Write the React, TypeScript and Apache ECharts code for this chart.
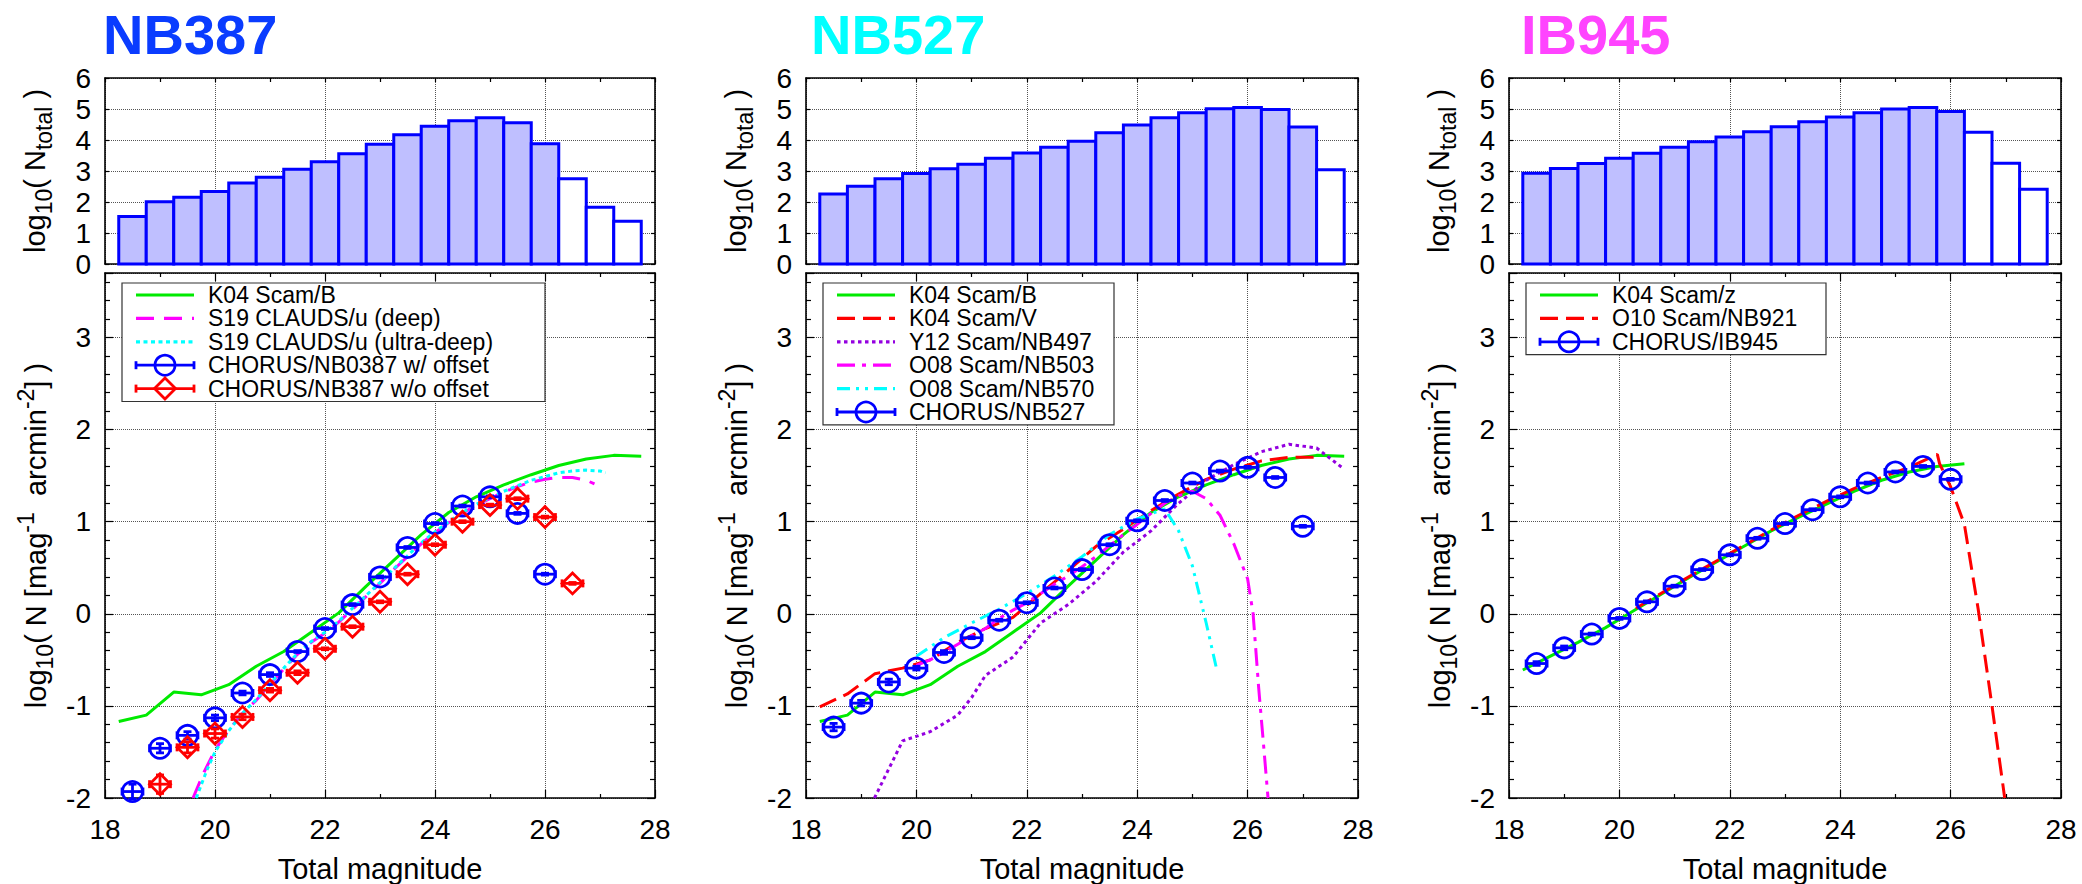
import React, { useEffect, useRef } from "react";
import * as echarts from "echarts";

// ---------------- data ----------------
const MAG_BINS = [18.5, 19.0, 19.5, 20.0, 20.5, 21.0, 21.5, 22.0, 22.5, 23.0, 23.5, 24.0, 24.5, 25.0, 25.5, 26.0, 26.5, 27.0, 27.5];
const HIST_NB387 = [1.53, 2.01, 2.15, 2.34, 2.61, 2.8, 3.06, 3.3, 3.56, 3.86, 4.17, 4.44, 4.62, 4.72, 4.56, 3.88, 2.75, 1.83, 1.38];
const HIST_NB527 = [2.26, 2.51, 2.75, 2.92, 3.07, 3.22, 3.41, 3.58, 3.77, 3.96, 4.23, 4.48, 4.72, 4.88, 5.01, 5.05, 4.98, 4.42, 3.04];
const HIST_IB945 = [2.93, 3.08, 3.24, 3.41, 3.57, 3.77, 3.94, 4.1, 4.27, 4.43, 4.59, 4.74, 4.88, 5.0, 5.05, 4.92, 4.25, 3.25, 2.41];
// last magnitude bin drawn filled (completeness limit)
const LIMIT_NB387 = 26.0;
const LIMIT_NB527 = 27.0;
const LIMIT_IB945 = 26.0;

// half width of the magnitude error bar
const MAG_HALF_ERR = 0.19;

// CHORUS NB387 with offset (blue circles)
const NB387_OFF_MAG = [18.5, 19.0, 19.5, 20.0, 20.5, 21.0, 21.5, 22.0, 22.5, 23.0, 23.5, 24.0, 24.5, 25.0, 25.5, 26.0];
const NB387_OFF_LOGN = [-1.93, -1.46, -1.32, -1.13, -0.86, -0.66, -0.41, -0.16, 0.1, 0.4, 0.72, 0.98, 1.17, 1.27, 1.09, 0.43];
const NB387_OFF_ERR = [0.08, 0.05, 0.04, 0.03, 0.02, 0.02, 0.01, 0.01, 0.01, 0.01, 0.01, 0.01, 0.01, 0.01, 0.01, 0.01];
// CHORUS NB387 without offset (red diamonds)
const NB387_RAW_MAG = [19.0, 19.5, 20.0, 20.5, 21.0, 21.5, 22.0, 22.5, 23.0, 23.5, 24.0, 24.5, 25.0, 25.5, 26.0, 26.5];
const NB387_RAW_LOGN = [-1.85, -1.45, -1.3, -1.12, -0.83, -0.64, -0.38, -0.14, 0.13, 0.43, 0.75, 1.0, 1.18, 1.25, 1.05, 0.33];
const NB387_RAW_ERR = [0.1, 0.06, 0.05, 0.03, 0.02, 0.02, 0.01, 0.01, 0.01, 0.01, 0.01, 0.01, 0.01, 0.01, 0.01, 0.01];
// CHORUS NB527
const NB527_MAG = [18.5, 19.0, 19.5, 20.0, 20.5, 21.0, 21.5, 22.0, 22.5, 23.0, 23.5, 24.0, 24.5, 25.0, 25.5, 26.0, 26.5, 27.0];
const NB527_LOGN = [-1.23, -0.97, -0.74, -0.59, -0.42, -0.26, -0.07, 0.12, 0.28, 0.48, 0.75, 1.01, 1.23, 1.42, 1.55, 1.59, 1.48, 0.95];
const NB527_ERR = [0.04, 0.03, 0.03, 0.02, 0.02, 0.01, 0.01, 0.01, 0.01, 0.01, 0.01, 0.01, 0.01, 0.01, 0.01, 0.01, 0.01, 0.01];
// CHORUS IB945
const IB945_MAG = [18.5, 19.0, 19.5, 20.0, 20.5, 21.0, 21.5, 22.0, 22.5, 23.0, 23.5, 24.0, 24.5, 25.0, 25.5, 26.0];
const IB945_LOGN = [-0.54, -0.37, -0.22, -0.05, 0.13, 0.3, 0.48, 0.64, 0.82, 0.98, 1.13, 1.27, 1.42, 1.54, 1.6, 1.46];
const IB945_ERR = [0.02, 0.02, 0.01, 0.01, 0.01, 0.01, 0.01, 0.01, 0.01, 0.01, 0.01, 0.01, 0.01, 0.01, 0.01, 0.01];

// literature counts [mag, log10 N]
const K04_B = [[18.25, -1.17], [18.75, -1.1], [19.25, -0.85], [19.75, -0.88], [20.25, -0.77], [20.75, -0.57], [21.25, -0.41], [21.75, -0.2], [22.25, 0.01], [22.75, 0.3], [23.25, 0.58], [23.75, 0.86], [24.25, 1.1], [24.75, 1.27], [25.25, 1.4], [25.75, 1.51], [26.25, 1.61], [26.75, 1.68], [27.25, 1.72], [27.75, 1.71]];
const S19_DEEP = [[19.6, -2.0], [19.8, -1.72], [20.0, -1.48], [20.25, -1.26], [20.5, -1.08], [20.75, -0.94], [21.0, -0.77], [21.25, -0.6], [21.5, -0.44], [21.75, -0.31], [22.0, -0.21], [22.25, -0.09], [22.5, 0.05], [22.75, 0.19], [23.0, 0.33], [23.25, 0.48], [23.5, 0.62], [23.75, 0.76], [24.0, 0.88], [24.25, 0.99], [24.5, 1.09], [24.75, 1.18], [25.0, 1.25], [25.25, 1.32], [25.5, 1.38], [25.75, 1.43], [26.0, 1.46], [26.25, 1.48], [26.5, 1.48], [26.75, 1.45], [26.9, 1.41]];
const S19_UDEEP = [[19.66, -2.0], [19.85, -1.7], [20.0, -1.5], [20.25, -1.27], [20.5, -1.08], [20.75, -0.93], [21.0, -0.76], [21.25, -0.59], [21.5, -0.43], [21.75, -0.3], [22.0, -0.2], [22.25, -0.08], [22.5, 0.06], [22.75, 0.2], [23.0, 0.34], [23.25, 0.49], [23.5, 0.63], [23.75, 0.77], [24.0, 0.89], [24.25, 1.0], [24.5, 1.1], [24.75, 1.19], [25.0, 1.26], [25.25, 1.33], [25.5, 1.39], [25.75, 1.45], [26.0, 1.49], [26.25, 1.53], [26.5, 1.55], [26.75, 1.56], [27.0, 1.55], [27.1, 1.53]];
const K04_V = [[18.25, -1.01], [18.75, -0.87], [19.25, -0.65], [19.75, -0.59], [20.25, -0.5], [20.75, -0.31], [21.25, -0.16], [21.75, -0.04], [22.25, 0.22], [22.75, 0.47], [23.25, 0.73], [23.75, 0.92], [24.25, 1.12], [24.75, 1.3], [25.25, 1.46], [25.75, 1.57], [26.25, 1.66], [26.75, 1.7], [27.25, 1.7]];
const Y12_NB497 = [[19.24, -2.0], [19.75, -1.38], [20.25, -1.28], [20.75, -1.1], [21.0, -0.91], [21.25, -0.67], [21.75, -0.47], [22.25, -0.1], [22.75, 0.1], [23.25, 0.35], [23.75, 0.67], [24.25, 0.9], [24.75, 1.2], [25.25, 1.45], [25.75, 1.62], [26.25, 1.76], [26.75, 1.84], [27.25, 1.8], [27.75, 1.57]];
const O08_NB503 = [[20.0, -0.56], [20.25, -0.5], [20.5, -0.42], [20.75, -0.33], [21.0, -0.24], [21.25, -0.16], [21.5, -0.05], [21.75, 0.04], [22.0, 0.12], [22.25, 0.22], [22.5, 0.32], [22.75, 0.41], [23.0, 0.51], [23.25, 0.62], [23.5, 0.74], [23.75, 0.86], [24.0, 0.97], [24.25, 1.09], [24.5, 1.2], [24.75, 1.28], [25.0, 1.33], [25.25, 1.25], [25.5, 1.07], [25.75, 0.76], [26.0, 0.38], [26.1, 0.0], [26.2, -0.8], [26.3, -1.5], [26.37, -2.0]];
const O08_NB570 = [[20.0, -0.46], [20.5, -0.26], [21.0, -0.1], [21.5, 0.05], [22.0, 0.22], [22.5, 0.41], [23.0, 0.62], [23.5, 0.86], [24.0, 1.03], [24.5, 1.14], [24.75, 0.9], [25.0, 0.52], [25.25, -0.1], [25.45, -0.63]];
const K04_Z = [[18.25, -0.61], [18.75, -0.46], [19.25, -0.31], [19.75, -0.15], [20.25, 0.03], [20.75, 0.21], [21.25, 0.39], [21.75, 0.56], [22.25, 0.73], [22.75, 0.9], [23.25, 1.05], [23.75, 1.19], [24.25, 1.33], [24.75, 1.45], [25.25, 1.54], [25.75, 1.6], [26.25, 1.63]];
const O10_NB921 = [[20.3, 0.06], [20.75, 0.22], [21.25, 0.4], [21.75, 0.57], [22.25, 0.74], [22.75, 0.91], [23.25, 1.07], [23.75, 1.22], [24.25, 1.36], [24.75, 1.48], [25.25, 1.59], [25.76, 1.73], [25.8, 1.63], [26.0, 1.38], [26.25, 0.97], [26.5, 0.05], [26.75, -1.0], [26.98, -2.0]];

// axis title pieces: [text, kind] with b = normal, s = subscript, p = superscript
const MAIN_YLABEL: [string, string][] = [["log", "b"], ["10", "s"], ["( N [mag", "b"], ["-1", "p"], ["  arcmin", "b"], ["-2", "p"], ["] )", "b"]];
const HIST_YLABEL: [string, string][] = [["log", "b"], ["10", "s"], ["( N", "b"], ["total", "s"], [" )", "b"]];

// ---------------- styling ----------------
const FONT = "'Liberation Sans', Arial, Helvetica, sans-serif";
const PANEL_LEFT = [105, 806, 1509];
const PANEL_W = [550, 552, 552];
const HIST_TOP = 78;
const HIST_H = 186;
const MAIN_TOP = 273;
const MAIN_H = 525;

const GREEN = "#00ea00";
const RED = "#ff0000";
const MAGENTA = "#ff00ff";
const CYAN = "#00ffff";
const PURPLE = "#9400e0";
const BLUE = "#0000ff";

const DASH = [18, 10];
const DOT = [4, 3.5];
const RED_DASH = [18, 8];
const PDOT = [3.5, 3.5];
const DASH_DOT = [18, 7, 4, 7];
const DASH_DOT_DOT = [13, 6, 3, 6, 3, 6];

const GRID_LINE = { show: true, lineStyle: { type: "dotted", color: "#555", width: 1 } };
const AXIS_LINE = { show: true, onZero: false, lineStyle: { color: "#000", width: 1.6 } };

function xAxes(gi: number, main: boolean) {
  const common: any = {
    gridIndex: gi,
    type: "value",
    min: 18,
    max: 28,
    interval: 2,
    axisLine: AXIS_LINE,
    axisTick: { show: true, inside: true, length: main ? 8 : 4, lineStyle: { color: "#000", width: 1.2 } },
    minorTick: { show: true, splitNumber: 2, length: 4, lineStyle: { color: "#000", width: 1.2 } },
  };
  return [
    {
      ...common,
      position: "bottom",
      splitLine: GRID_LINE,
      axisLabel: main ? { show: true, fontSize: 28, fontFamily: FONT, color: "#000", margin: 17 } : { show: false },
      name: main ? "Total magnitude" : "",
      nameLocation: "middle",
      nameGap: 56,
      nameTextStyle: { fontSize: 29, fontFamily: FONT, color: "#000" },
    },
    { ...common, position: "top", splitLine: { show: false }, axisLabel: { show: false } },
  ];
}

function yAxes(gi: number, main: boolean) {
  const common: any = {
    gridIndex: gi,
    type: "value",
    min: main ? -2 : 0,
    max: main ? 3.7 : 6,
    interval: 1,
    axisLine: AXIS_LINE,
    axisTick: { show: true, inside: true, length: main ? 8 : 4, lineStyle: { color: "#000", width: 1.2 } },
    minorTick: { show: main, splitNumber: 5, length: 5, lineStyle: { color: "#000", width: 1.2 } },
  };
  return [
    {
      ...common,
      position: "left",
      splitLine: GRID_LINE,
      axisLabel: { show: true, fontSize: 28, fontFamily: FONT, color: "#000", margin: 14, showMaxLabel: !main },
    },
    { ...common, position: "right", splitLine: { show: false }, axisLabel: { show: false } },
  ];
}

let measureCtx: CanvasRenderingContext2D | null = null;
function measure(text: string, size: number) {
  if (!measureCtx) measureCtx = document.createElement("canvas").getContext("2d");
  if (!measureCtx) return text.length * size * 0.55;
  measureCtx.font = `${size}px ${FONT}`;
  return measureCtx.measureText(text).width;
}

function rotatedLabel(cx: number, cy: number, pieces: [string, string][]) {
  const BASE = 29;
  const SMALL = 23;
  const sizes = pieces.map(([, k]) => (k === "b" ? BASE : SMALL));
  const widths = pieces.map(([t], i) => measure(t, sizes[i]));
  const total = widths.reduce((a, b) => a + b, 0);
  let x = -total / 2;
  const children = pieces.map(([t, k], i) => {
    const el = {
      type: "text",
      x,
      y: k === "s" ? 9 : k === "p" ? -10 : 0,
      style: { text: t, fontSize: sizes[i], fontFamily: FONT, fill: "#000", align: "left", verticalAlign: "middle" },
    };
    x += widths[i];
    return el;
  });
  return { type: "group", x: cx, y: cy, rotation: Math.PI / 2, children, z: 50 };
}

function histSeries(p: number, heights: number[], limit: number) {
  return {
    type: "custom",
    xAxisIndex: 2 * p,
    yAxisIndex: 2 * p,
    silent: true,
    encode: { x: 0, y: 1 },
    data: MAG_BINS.map((m, i) => [m, heights[i], m <= limit ? 1 : 0]),
    renderItem: (params: any, api: any) => {
      const x = api.value(0);
      const h = api.value(1);
      const filled = api.value(2);
      const p0 = api.coord([x - 0.25, h]);
      const p1 = api.coord([x + 0.25, 0]);
      return {
        type: "rect",
        shape: { x: p0[0], y: p0[1], width: p1[0] - p0[0], height: p1[1] - p0[1] },
        style: { fill: filled ? "#bfbfff" : "#ffffff", stroke: BLUE, lineWidth: 3 },
      };
    },
  };
}

function lineSeries(p: number, data: number[][], color: string, dash: number[] | null, z = 3) {
  return {
    type: "line",
    xAxisIndex: 2 * (p + 3),
    yAxisIndex: 2 * (p + 3),
    data,
    symbol: "none",
    silent: true,
    clip: true,
    z,
    lineStyle: { color, width: 3, type: dash || "solid", cap: "butt" },
  };
}

function pointSeries(p: number, mags: number[], vals: number[], errs: number[], color: string, shape: "circle" | "diamond") {
  return {
    type: "custom",
    xAxisIndex: 2 * (p + 3),
    yAxisIndex: 2 * (p + 3),
    silent: true,
    clip: false,
    z: 6,
    encode: { x: 0, y: 1 },
    data: mags.map((m, i) => [m, vals[i], errs[i]]),
    renderItem: (params: any, api: any) => {
      const x = api.value(0);
      const y = api.value(1);
      const e = api.value(2);
      const c = api.coord([x, y]);
      const l = api.coord([x - MAG_HALF_ERR, y]);
      const r = api.coord([x + MAG_HALF_ERR, y]);
      const t = api.coord([x, y + e]);
      const b = api.coord([x, y - e]);
      const st = { stroke: color, lineWidth: 2.8, fill: "none" };
      const cap = 4;
      const children: any[] = [
        { type: "line", shape: { x1: l[0], y1: l[1], x2: r[0], y2: r[1] }, style: st },
        { type: "line", shape: { x1: l[0], y1: l[1] - cap, x2: l[0], y2: l[1] + cap }, style: st },
        { type: "line", shape: { x1: r[0], y1: r[1] - cap, x2: r[0], y2: r[1] + cap }, style: st },
        { type: "line", shape: { x1: t[0], y1: t[1], x2: b[0], y2: b[1] }, style: st },
        { type: "line", shape: { x1: t[0] - cap, y1: t[1], x2: t[0] + cap, y2: t[1] }, style: st },
        { type: "line", shape: { x1: b[0] - cap, y1: b[1], x2: b[0] + cap, y2: b[1] }, style: st },
      ];
      if (shape === "circle") {
        children.push({ type: "circle", shape: { cx: c[0], cy: c[1], r: 10 }, style: st });
      } else {
        const d = 10.5;
        children.push({
          type: "polygon",
          shape: { points: [[c[0], c[1] - d], [c[0] + d, c[1]], [c[0], c[1] + d], [c[0] - d, c[1]]] },
          style: st,
        });
      }
      return { type: "group", children };
    },
  };
}

type LegendItem = { label: string; color: string; kind: "line" | "circle" | "diamond"; dash?: number[] };

function legend(left: number, boxW: number, items: LegendItem[]) {
  const top = 283;
  const rowH = 23.4;
  const els: any[] = [
    {
      type: "rect",
      shape: { x: left + 17, y: top, width: boxW, height: items.length * rowH + 1.5 },
      style: { fill: "#ffffff", stroke: "#333", lineWidth: 1.2 },
      z: 100,
    },
  ];
  items.forEach((it, i) => {
    const y = top + 12 + i * rowH;
    const x1 = left + 31;
    const x2 = left + 89;
    const xm = (x1 + x2) / 2;
    els.push({
      type: "line",
      shape: { x1, y1: y, x2, y2: y },
      style: { stroke: it.color, lineWidth: it.kind === "line" ? 3.2 : 2.8, lineDash: it.dash || null },
      z: 101,
    });
    if (it.kind !== "line") {
      const st = { stroke: it.color, lineWidth: 2.8, fill: "none" };
      els.push({ type: "line", shape: { x1, y1: y - 4, x2: x1, y2: y + 4 }, style: st, z: 101 });
      els.push({ type: "line", shape: { x1: x2, y1: y - 4, x2, y2: y + 4 }, style: st, z: 101 });
      if (it.kind === "circle") {
        els.push({ type: "circle", shape: { cx: xm, cy: y, r: 10 }, style: st, z: 101 });
      } else {
        const d = 10.5;
        els.push({
          type: "polygon",
          shape: { points: [[xm, y - d], [xm + d, y], [xm, y + d], [xm - d, y]] },
          style: st,
          z: 101,
        });
      }
    }
    els.push({
      type: "text",
      x: left + 103,
      y,
      style: { text: it.label, fontSize: 23, fontFamily: FONT, fill: "#000", verticalAlign: "middle", align: "left" },
      z: 101,
    });
  });
  return els;
}

function buildOption() {
  const grids: any[] = [];
  const xs: any[] = [];
  const ys: any[] = [];
  for (let g = 0; g < 6; g++) {
    const p = g % 3;
    const main = g >= 3;
    grids.push({
      left: PANEL_LEFT[p],
      width: PANEL_W[p],
      top: main ? MAIN_TOP : HIST_TOP,
      height: main ? MAIN_H : HIST_H,
      outerBoundsMode: "none",
      containLabel: false,
    });
    xs.push(...xAxes(g, main));
    ys.push(...yAxes(g, main));
  }

  const series: any[] = [
    histSeries(0, HIST_NB387, LIMIT_NB387),
    histSeries(1, HIST_NB527, LIMIT_NB527),
    histSeries(2, HIST_IB945, LIMIT_IB945),
    // panel 1
    lineSeries(0, K04_B, GREEN, null),
    lineSeries(0, S19_DEEP, MAGENTA, DASH),
    lineSeries(0, S19_UDEEP, CYAN, DOT),
    pointSeries(0, NB387_OFF_MAG, NB387_OFF_LOGN, NB387_OFF_ERR, BLUE, "circle"),
    pointSeries(0, NB387_RAW_MAG, NB387_RAW_LOGN, NB387_RAW_ERR, RED, "diamond"),
    // panel 2
    lineSeries(1, K04_B, GREEN, null),
    lineSeries(1, K04_V, RED, RED_DASH),
    lineSeries(1, Y12_NB497, PURPLE, PDOT),
    lineSeries(1, O08_NB503, MAGENTA, DASH_DOT),
    lineSeries(1, O08_NB570, CYAN, DASH_DOT_DOT),
    pointSeries(1, NB527_MAG, NB527_LOGN, NB527_ERR, BLUE, "circle"),
    // panel 3
    lineSeries(2, K04_Z, GREEN, null),
    lineSeries(2, O10_NB921, RED, RED_DASH),
    pointSeries(2, IB945_MAG, IB945_LOGN, IB945_ERR, BLUE, "circle"),
  ];

  const labels: any[] = [];
  for (let p = 0; p < 3; p++) {
    labels.push(rotatedLabel(PANEL_LEFT[p] - 70, HIST_TOP + HIST_H / 2, HIST_YLABEL));
    labels.push(rotatedLabel(PANEL_LEFT[p] - 69, MAIN_TOP + MAIN_H / 2, MAIN_YLABEL));
  }

  const graphics = [
    ...labels,
    ...legend(PANEL_LEFT[0], 423, [
      { label: "K04 Scam/B", color: GREEN, kind: "line" },
      { label: "S19 CLAUDS/u (deep)", color: MAGENTA, kind: "line", dash: DASH },
      { label: "S19 CLAUDS/u (ultra-deep)", color: CYAN, kind: "line", dash: DOT },
      { label: "CHORUS/NB0387 w/ offset", color: BLUE, kind: "circle" },
      { label: "CHORUS/NB387 w/o offset", color: RED, kind: "diamond" },
    ]),
    ...legend(PANEL_LEFT[1], 291, [
      { label: "K04 Scam/B", color: GREEN, kind: "line" },
      { label: "K04 Scam/V", color: RED, kind: "line", dash: RED_DASH },
      { label: "Y12 Scam/NB497", color: PURPLE, kind: "line", dash: PDOT },
      { label: "O08 Scam/NB503", color: MAGENTA, kind: "line", dash: DASH_DOT },
      { label: "O08 Scam/NB570", color: CYAN, kind: "line", dash: DASH_DOT_DOT },
      { label: "CHORUS/NB527", color: BLUE, kind: "circle" },
    ]),
    ...legend(PANEL_LEFT[2], 300, [
      { label: "K04 Scam/z", color: GREEN, kind: "line" },
      { label: "O10 Scam/NB921", color: RED, kind: "line", dash: RED_DASH },
      { label: "CHORUS/IB945", color: BLUE, kind: "circle" },
    ]),
  ];

  const titleStyle = (color: string) => ({ fontSize: 56, fontWeight: "bold", color, fontFamily: FONT });
  return {
    animation: false,
    backgroundColor: "#ffffff",
    title: [
      { text: "NB387", left: 103, top: 6, padding: 0, textStyle: titleStyle("#0a3cff") },
      { text: "NB527", left: 811, top: 6, padding: 0, textStyle: titleStyle("#00ffff") },
      { text: "IB945", left: 1521, top: 6, padding: 0, textStyle: titleStyle("#ff44ff") },
    ],
    grid: grids,
    xAxis: xs,
    yAxis: ys,
    series,
    graphic: { elements: graphics },
  };
}

export default function App() {
  const ref = useRef<HTMLDivElement>(null);
  useEffect(() => {
    document.body.style.margin = "0";
    const chart = echarts.init(ref.current as HTMLDivElement, null, { renderer: "svg" });
    chart.setOption(buildOption() as any);
    return () => chart.dispose();
  }, []);
  return <div ref={ref} style={{ width: 2082, height: 884, background: "#fff" }} />;
}
